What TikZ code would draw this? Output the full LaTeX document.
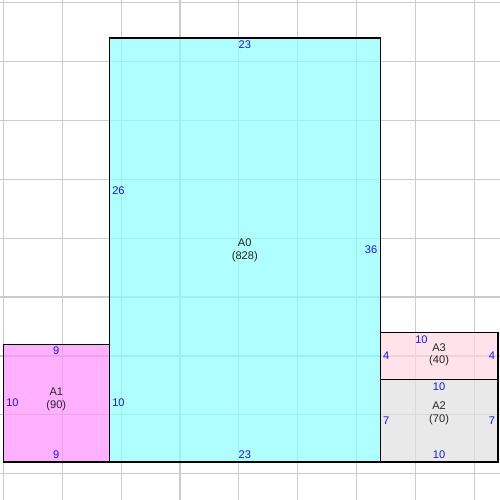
\documentclass[tikz,border=0pt]{standalone}
\usepackage{fontspec}
\setmainfont{Liberation Sans}
\usepackage{tkz-euclide}
\usetikzlibrary{calc}

\definecolor{roomA0}{RGB}{142,255,255}
\definecolor{roomA1}{RGB}{255,142,255}
\definecolor{roomA2}{RGB}{224,224,224}
\definecolor{roomA3}{RGB}{255,214,225}
\definecolor{lenblue}{RGB}{20,20,250}
\definecolor{gridgray}{RGB}{204,204,204}

\tikzset{
  gridline/.style={draw=gridgray, line width=0.7pt},
  room/.style={draw=black, line width=0.75pt, fill opacity=0.7},
  len/.style={text=lenblue, font=\fontsize{6.7}{7.8}\selectfont, inner sep=1.6pt},
  roomname/.style={align=center, text=black!85, font=\fontsize{6.7}{7.8}\selectfont, inner sep=0pt}
}

\begin{document}
\begin{tikzpicture}[x=0.25cm,y=0.25cm]
    \useasboundingbox (-0.28,-3.23) rectangle (42.17,39.22);
    % grid
    \foreach \gx in {0,5,...,40}
        \draw[gridline] (\gx,-3.23) -- (\gx,39.22);
    \foreach \gy in {-1,4,...,39}
        \draw[gridline] (-0.28,\gy) -- (42.17,\gy);
    % corners
    \tkzDefPoint(0,0){P}
    \tkzDefPoint(9,0){Q}
    \tkzDefPoint(32,0){R}
    \tkzDefPoint(42,0){S}
    \tkzDefPoint(0,10){T}
    \tkzDefPoint(9,10){U}
    \tkzDefPoint(9,36){V}
    \tkzDefPoint(32,36){W}
    \tkzDefPoint(32,7){X}
    \tkzDefPoint(42,7){Y}
    \tkzDefPoint(32,11){Z}
    \tkzDefPoint(42,11){K}
    % rooms
    \draw[room, fill=roomA0] (Q) -- (R) -- (W) -- (V) -- cycle;
    \draw[room, fill=roomA1] (P) -- (Q) -- (U) -- (T) -- cycle;
    \draw[room, fill=roomA2] (R) -- (S) -- (Y) -- (X) -- cycle;
    \draw[room, fill=roomA3] (X) -- (Y) -- (K) -- (Z) -- cycle;
    % A0
    \node[roomname] (nameA0) at (20.5,18) {A0\\(828)};
    \node[len, anchor=north] (topA0) at ($(V)!0.5!(W)$) {23};
    \node[len, anchor=south] (botA0) at ($(Q)!0.5!(R)$) {23};
    \node[len, anchor=west] (leftA0) at ($(U)!0.5!(V)$) {26};
    \node[len, anchor=west] (lowA0) at ($(Q)!0.5!(U)$) {10};
    \node[len, anchor=east] (rightA0) at ($(R)!0.5!(W)$) {36};
    % A1
    \node[roomname] (nameA1) at (4.5,5.3) {A1\\(90)};
    \node[len, anchor=north] (topA1) at ($(T)!0.5!(U)$) {9};
    \node[len, anchor=south] (botA1) at ($(P)!0.5!(Q)$) {9};
    \node[len, anchor=west] (leftA1) at ($(P)!0.5!(T)$) {10};
    % A3
    \node[roomname] (nameA3) at (37,9.1) {A3\\(40)};
    \node[len, anchor=north] (topA3) at (35.5,11) {10};
    \node[len, anchor=west] (leftA3) at ($(X)!0.5!(Z)$) {4};
    \node[len, anchor=east] (rightA3) at ($(Y)!0.5!(K)$) {4};
    % A2
    \node[roomname] (nameA2) at (37,4.1) {A2\\(70)};
    \node[len, anchor=north] (topA2) at ($(X)!0.5!(Y)$) {10};
    \node[len, anchor=south] (botA2) at ($(R)!0.5!(S)$) {10};
    \node[len, anchor=west] (leftA2) at ($(R)!0.5!(X)$) {7};
    \node[len, anchor=east] (rightA2) at ($(S)!0.5!(Y)$) {7};
\end{tikzpicture}
\end{document}
